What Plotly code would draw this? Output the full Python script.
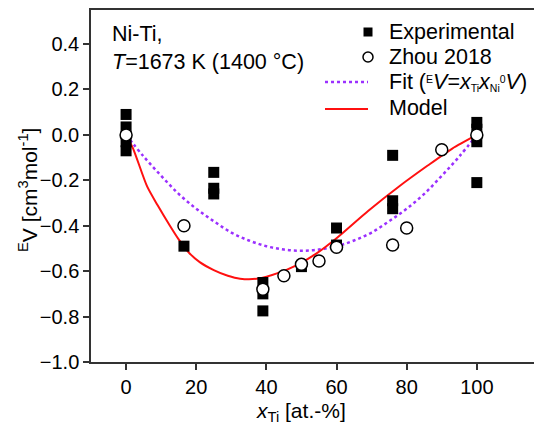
import plotly.graph_objects as go

# Experimental data (filled squares)
exp_x = [0, 0, 0, 0, 16.5, 25, 25, 25, 39, 39, 39, 50, 60, 60, 76, 76, 76, 100, 100, 100, 100]
exp_y = [0.09, 0.035, -0.03, -0.07, -0.49, -0.165, -0.235, -0.26, -0.65, -0.70, -0.775,
         -0.58, -0.41, -0.485, -0.09, -0.29, -0.325, 0.055, 0.025, -0.03, -0.21]

# Zhou 2018 (open circles)
zhou_x = [0, 16.5, 39, 45, 50, 55, 60, 76, 80, 90, 100]
zhou_y = [0.0, -0.40, -0.68, -0.62, -0.57, -0.555, -0.495, -0.485, -0.41, -0.065, 0.0]

# Fit curve (dotted purple)
fit_x = [0, 5, 10, 15, 20, 25, 30, 35, 40, 45, 50, 55, 60, 65, 70, 75, 80, 85, 90, 95, 100]
fit_y = [0.0, -0.095, -0.18, -0.26, -0.325, -0.38, -0.43, -0.465, -0.49, -0.505, -0.51,
         -0.505, -0.49, -0.465, -0.43, -0.38, -0.325, -0.26, -0.18, -0.095, 0.0]

# Model curve (red)
model_x = [0, 2, 6, 9, 12.5, 15, 18, 21, 25, 29, 32.5, 38, 43, 48.7, 54, 60, 69, 78, 86, 93, 100]
model_y = [0.0, -0.06, -0.227, -0.31, -0.40, -0.46, -0.52, -0.56, -0.595, -0.62, -0.633, -0.632,
           -0.61, -0.573, -0.525, -0.455, -0.335, -0.225, -0.135, -0.06, 0.0]

x_ticks = [0, 20, 40, 60, 80, 100]
y_ticks = [-1.0, -0.8, -0.6, -0.4, -0.2, 0.0, 0.2, 0.4]

SM = '<span style="font-size:15px">'
legend_labels = [
    "Experimental",
    "Zhou 2018",
    "Fit (" + SM + "<sup>E</sup></span><i>V</i>=<i>x</i>" + SM + "<sub>Ti</sub></span>"
    "<i>x</i>" + SM + "<sub>Ni</sub></span>" + SM + "<sup>0</sup></span><i>V</i>)",
    "Model",
]

FONT = "Liberation Sans, Arial, sans-serif"
PURPLE = "#9b30ff"
RED = "#ff1010"

# page geometry of the plot area (pixels)
L, T, W, H = 91, 10, 443, 352
def px(xp):
    return (xp - L) / W
def py(yp):
    return 1 - (yp - T) / H

fig = go.Figure()
fig.add_trace(go.Scatter(x=fit_x, y=fit_y, mode="lines", line_shape="spline",
                         name=legend_labels[2],
                         line=dict(color=PURPLE, width=2.5, dash="dot")))
fig.add_trace(go.Scatter(x=model_x, y=model_y, mode="lines", line_shape="spline",
                         line_smoothing=0.7, name=legend_labels[3],
                         line=dict(color=RED, width=2)))
fig.add_trace(go.Scatter(x=exp_x, y=exp_y, mode="markers", name=legend_labels[0],
                         marker=dict(symbol="square", size=11, color="black",
                                     line=dict(width=0))))
fig.add_trace(go.Scatter(x=zhou_x, y=zhou_y, mode="markers", name=legend_labels[1],
                         marker=dict(symbol="circle", size=12, color="white",
                                     line=dict(width=1.5, color="black"))))

# legend (drawn as layout items)
row_y = [32, 57, 82, 108]
annotations = []
for lab, ry in zip(legend_labels, row_y):
    annotations.append(dict(text=lab, xref="paper", yref="paper", x=px(387), y=py(ry),
                            xanchor="left", yanchor="middle", showarrow=False,
                            font=dict(size=21.5)))
shapes = [
    dict(type="rect", xref="paper", yref="paper", x0=px(363.5), x1=px(372.5),
         y0=py(27.5), y1=py(36.5), fillcolor="black", line=dict(width=0)),
    dict(type="circle", xref="paper", yref="paper", x0=px(363), x1=px(373),
         y0=py(52), y1=py(62), fillcolor="white", line=dict(color="black", width=1.5)),
    dict(type="line", xref="paper", yref="paper", x0=px(325), x1=px(368),
         y0=py(row_y[2]), y1=py(row_y[2]), line=dict(color=PURPLE, width=2.5, dash="dot")),
    dict(type="line", xref="paper", yref="paper", x0=px(325), x1=px(368),
         y0=py(row_y[3] + 1), y1=py(row_y[3] + 1), line=dict(color=RED, width=2)),
]

annotations += [
    dict(text="Ni-Ti,<br><i>T</i>=1673 K (1400 °C)", xref="paper", yref="paper",
         x=px(110), y=py(20), xanchor="left", yanchor="top",
         align="left", showarrow=False, font=dict(size=21.5)),
    dict(text="<i>x</i><sub>Ti</sub> [at.-%]", xref="x", yref="paper", x=50,
         y=py(412), xanchor="center", yanchor="middle",
         showarrow=False, font=dict(size=21)),
    dict(text="<sup>E</sup>V [cm<sup>3</sup>mol<sup>-1</sup>]", xref="paper", yref="paper",
         x=px(28), y=py(190), xanchor="center", yanchor="middle",
         textangle=-90, showarrow=False, font=dict(size=21)),
]

fig.update_layout(
    width=534, height=429,
    margin=dict(l=L, r=534 - L - W, t=T, b=429 - T - H, autoexpand=False),
    plot_bgcolor="white", paper_bgcolor="white",
    font=dict(family=FONT, size=20, color="black"),
    showlegend=False,
    xaxis=dict(range=[-10, 116.3], tickvals=x_ticks, ticks="outside", ticklen=6,
               tickwidth=1.5, tickcolor="#333", showline=True, linecolor="#333",
               linewidth=1.5, mirror=True, showgrid=False, zeroline=False,
               tickfont=dict(size=20), automargin=False),
    yaxis=dict(range=[-1.0, 0.55], tickvals=y_ticks, tickformat=".1f", ticks="outside",
               ticklen=6, tickwidth=1.5, tickcolor="#333", showline=True,
               linecolor="#333", linewidth=1.5, mirror=False, showgrid=False,
               zeroline=False, tickfont=dict(size=20), automargin=False),
    annotations=annotations,
    shapes=shapes,
)

fig.write_html("out.html", config={"displayModeBar": False},
               post_script="document.body.style.margin='0px';document.body.style.overflow='hidden';")
